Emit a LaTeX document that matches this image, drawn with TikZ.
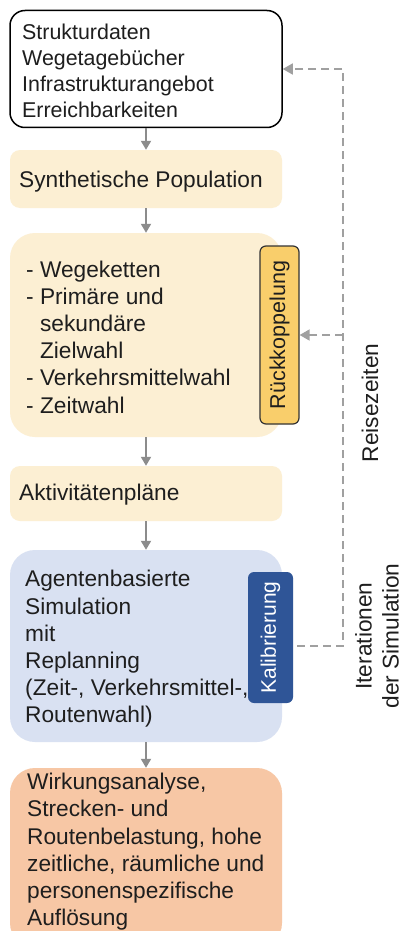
\documentclass[tikz,border=0pt]{standalone}
\usepackage{fontspec}
\setmainfont{Liberation Sans}
\usetikzlibrary{arrows.meta}
\definecolor{beige}{HTML}{FCEFD3}
\definecolor{gold}{HTML}{F9CE6B}
\definecolor{lblue}{HTML}{D9E1F2}
\definecolor{dblue}{HTML}{2F5597}
\definecolor{salmon}{HTML}{F7C7A5}
\definecolor{arrgray}{HTML}{8C8C8C}
\definecolor{dashgray}{HTML}{A0A0A0}
\definecolor{txt}{HTML}{1E1E1E}
\begin{document}
\begin{tikzpicture}[x=1pt,y=-1pt,
  boxshape/.style={rectangle,inner sep=0pt,minimum width=272pt},
  tag/.style={rectangle,inner sep=0pt,rounded corners=6pt},
  label/.style={inner sep=0pt,align=left,text=txt,font=\fontsize{22.7}{27.2}\selectfont},
  arr/.style={draw=arrgray,line width=1.8pt,-{Triangle[width=10pt,length=9pt]}},
  dline/.style={draw=dashgray,line width=1.6pt,dash pattern=on 8pt off 5pt},
  dtip/.style={-{Triangle[width=11pt,length=10pt]}}
]
\useasboundingbox (0,0) rectangle (404,931);
\clip (0,0) rectangle (404,931);
\fill[white] (0,0) rectangle (404,931);

% boxes
\node[boxshape,draw=black,line width=1.5pt,fill=white,rounded corners=15pt,minimum height=117pt] (b1) at (146,69) {};
\node[boxshape,fill=beige,rounded corners=10pt,minimum height=58pt] (b2) at (146,179) {};
\node[boxshape,fill=beige,rounded corners=25pt,minimum height=204pt] (b3) at (146,335) {};
\node[boxshape,fill=beige,rounded corners=10pt,minimum height=55pt] (b4) at (146,493.5) {};
\node[boxshape,fill=lblue,rounded corners=25pt,minimum height=192pt] (b5) at (146,646) {};
\node[boxshape,fill=salmon,rounded corners=25pt,minimum height=180pt] (b6) at (146,858) {};

% texts
\node[label,anchor=west,font=\fontsize{21.4}{25.8}\selectfont] (t1) at (22,71)
  {Strukturdaten\\Wegetagebücher\\Infrastrukturangebot\\Erreichbarkeiten};
\node[label,anchor=west] (t2) at (19,182) {Synthetische Population};
\node[label,anchor=west] (t3) at (26,337)
  {- Wegeketten\\- Primäre und\\\hphantom{- }sekundäre\\\hphantom{- }Zielwahl\\- Verkehrsmittelwahl\\- Zeitwahl};
\node[label,anchor=west] (t4) at (19,495) {Aktivitätenpläne};
\node[label,anchor=west] (t5) at (25,649)
  {Agentenbasierte\\Simulation\\mit\\Replanning\\(Zeit-, Verkehrsmittel-,\\Routenwahl)};
\node[label,anchor=north west] (t6) at (27,773)
  {Wirkungsanalyse,\\Strecken- und\\Routenbelastung, hohe\\zeitliche, räumliche und\\personenspezifische\\Auflösung};

% tags
\node[tag,fill=gold,draw=black!80,line width=1.2pt,minimum width=39pt,minimum height=178pt] (rk) at (279.5,335) {};
\node[rotate=90,inner sep=0pt,text=txt,font=\fontsize{21.5}{25}\selectfont] (rkt) at (rk.center) {Rückkoppelung};
\node[tag,fill=dblue,minimum width=45pt,minimum height=131pt] (kal) at (270.5,637.5) {};
\node[rotate=90,inner sep=0pt,text=white,font=\fontsize{21}{25}\selectfont] (kalt) at (kal.center) {Kalibrierung};

% flow arrows
\draw[arr] (b1.south) -- (b2.north);
\draw[arr] (b2.south) -- (b3.north);
\draw[arr] (b3.south) -- (b4.north);
\draw[arr] (b4.south) -- (b5.north);
\draw[arr] (b5.south) -- (b6.north);

% feedback loop
\coordinate (c1) at (297,646);
\coordinate (c2) at (343,646);
\draw[dline,dtip] (c1) -- (c2) |- (b1.east);
\draw[dline,dtip] (c2 |- rk.east) -- (rk.east);

% side labels
\node[rotate=90,inner sep=0pt,text=txt,font=\fontsize{22.7}{27.2}\selectfont] (rz) at (370,403) {Reisezeiten};
\node[rotate=90,inner sep=0pt,align=center,text=txt,font=\fontsize{22.7}{27.2}\selectfont] (it) at (377,636) {Iterationen\\der Simulation};
\end{tikzpicture}
\end{document}
